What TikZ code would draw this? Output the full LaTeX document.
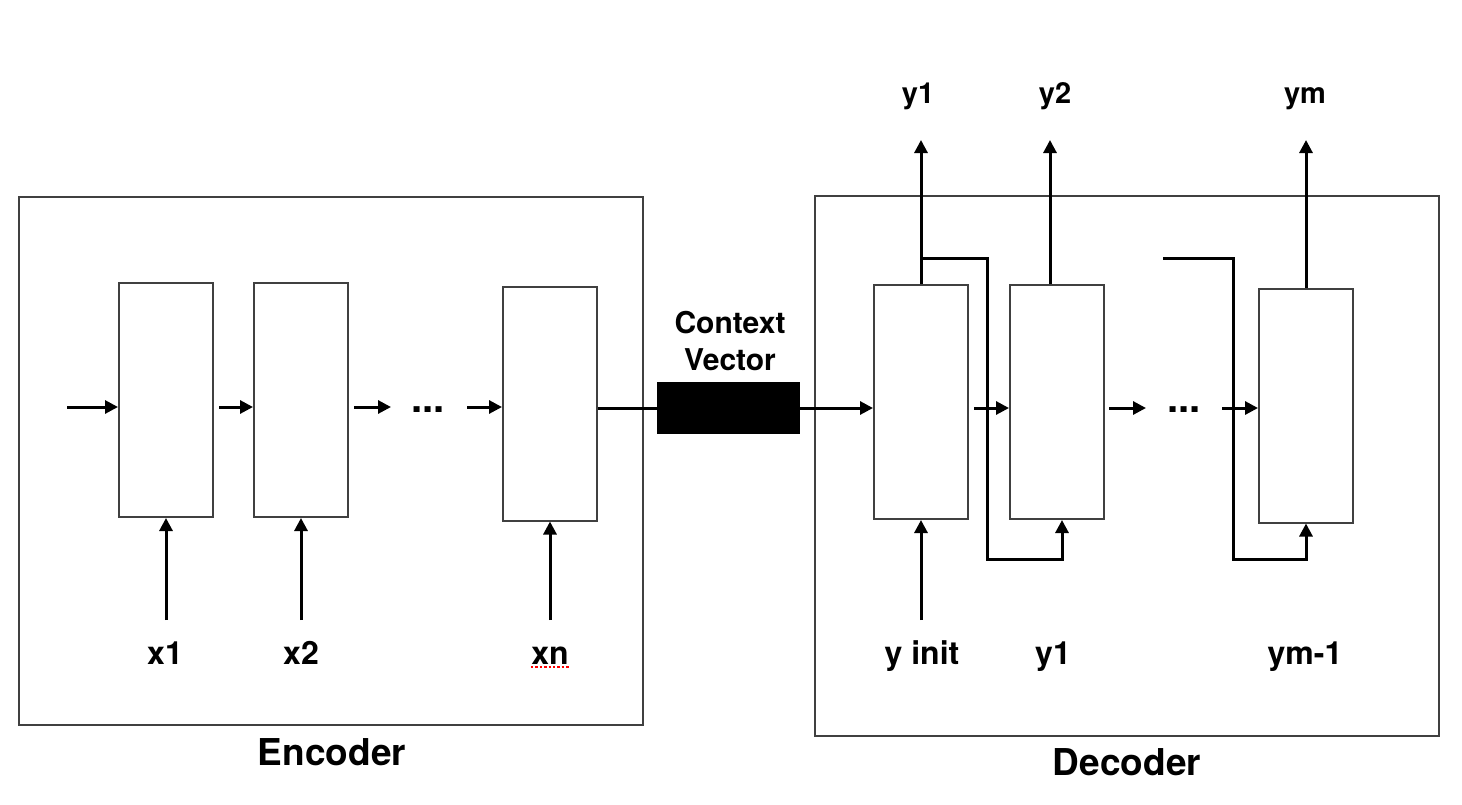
\documentclass[tikz,border=0pt]{standalone}
\usepackage{fontspec}
\setmainfont{TeX Gyre Heros}
\usetikzlibrary{arrows.meta,positioning}

\tikzset{
    cell/.style={draw=black!75, line width=1pt, minimum width=47pt, minimum height=117pt, inner sep=0pt},
    frame/.style={draw=black!75, line width=1pt, inner sep=0pt},
    wire/.style={line width=1.5pt},
    arr/.style={wire, -{Triangle[length=6.5pt,width=6.5pt]}},
    lbl/.style={font=\fontsize{16}{18}\selectfont\bfseries, anchor=base, inner sep=0pt},
    toplbl/.style={font=\fontsize{14.5}{16}\selectfont\bfseries, anchor=base, inner sep=0pt},
    title/.style={font=\fontsize{18.5}{20}\selectfont\bfseries, anchor=base, inner sep=0pt},
    dotslbl/.style={font=\fontsize{20}{20}\selectfont\bfseries, anchor=base, inner sep=0pt},
}

\begin{document}
\begin{tikzpicture}[x=0.5pt, y=-0.5pt]
    \useasboundingbox (0,0) rectangle (1462,804);
    \node[frame, minimum width=312pt, minimum height=264pt] at (331,461) (encbox) {};
    \node[frame, minimum width=312pt, minimum height=270pt] at (1127,466) (decbox) {};
    \node[title] at (332,765) (enctitle) {Encoder};
    \node[title] at (1127,775) (dectitle) {Decoder};
    \node[cell] at (166,400) (enc1) {};
    \node[cell] at (301,400) (enc2) {};
    \node[cell] at (550,403.5) (enc3) {};
    \node[cell] at (921,402) (dec1) {};
    \node[cell] at (1057,402) (dec2) {};
    \node[cell] at (1306,405.5) (dec3) {};
    \node[fill=black, minimum width=71.5pt, minimum height=26pt, inner sep=0pt] at (728.5,408) (ctx) {};
    \node[font=\fontsize{15}{18.5}\selectfont\bfseries, align=center, inner sep=0pt] at (730,341) (ctxlbl) {Context\\Vector};
    \node[dotslbl] at (428,412) (edots) {...};
    \node[dotslbl] at (1184,412) (ddots) {...};
    \node[lbl] at (165,664) (x1) {x1};
    \node[lbl] at (301,664) (x2) {x2};
    \node[lbl] at (550,664) (xn) {xn};
    \node[lbl] at (922,664) (yinit) {y init};
    \node[lbl] at (1053,664) (yprev) {y1};
    \node[lbl] at (1305,664) (ylast) {ym-1};
    \node[toplbl] at (918,103) (y1) {y1};
    \node[toplbl] at (1055,103) (y2) {y2};
    \node[toplbl] at (1305,103) (ym) {ym};
    \draw[red, dash pattern=on 1.2pt off 1pt, line width=1pt] ([yshift=-1.5pt]xn.south west) -- ([yshift=-1.5pt]xn.south east);

    \coordinate (ein) at (67,407);
    \coordinate (e3in) at (467,407);
    \coordinate (d3in) at (1222,408);
    \coordinate (inrow) at (0,620);
    \coordinate (outrow) at (0,140);
    \coordinate (fbtop) at (0,258);
    \coordinate (fbbot) at (0,559);
    \coordinate (fb2) at (1163,258);
    \coordinate (d2out) at ([xshift=-3.5pt]dec2.north);
    \coordinate (d2in) at ([xshift=2.5pt]dec2.south);

    \draw[arr] (ein) -- (enc1.west |- ein);
    \draw[arr] ([xshift=2.5pt]enc1.east |- ein) -- (enc2.west |- ein);
    \draw[arr] ([xshift=2.5pt]enc2.east |- ein) -- ++(37,0);
    \draw[arr] (e3in) -- (enc3.west |- e3in);
    \draw[arr] (enc1 |- inrow) -- (enc1.south);
    \draw[arr] (enc2 |- inrow) -- (enc2.south);
    \draw[arr] (enc3 |- inrow) -- (enc3.south);

    \draw[wire] (enc3.east |- ctx) -- (ctx.west);
    \draw[arr] (ctx.east) -- (dec1.west |- ctx);
    \draw[arr] ([xshift=2.5pt]dec1.east |- ctx) -- (dec2.west |- ctx);
    \draw[arr] ([xshift=2pt]dec2.east |- ctx) -- ++(37,0);
    \draw[arr] (d3in) -- (dec3.west |- d3in);

    \draw[arr] (dec1 |- inrow) -- (dec1.south);
    \draw[arr] (dec1.north) -- (dec1 |- outrow);
    \draw[arr] (d2out) -- (d2out |- outrow);
    \draw[arr] (dec3.north) -- (dec3 |- outrow);
    \draw[arr] (dec1 |- fbtop) -- ++(66,0) |- (d2in |- fbbot) -- (d2in);
    \draw[arr] (fb2) -- ++(70,0) |- (dec3 |- fbbot) -- (dec3.south);
\end{tikzpicture}
\end{document}
